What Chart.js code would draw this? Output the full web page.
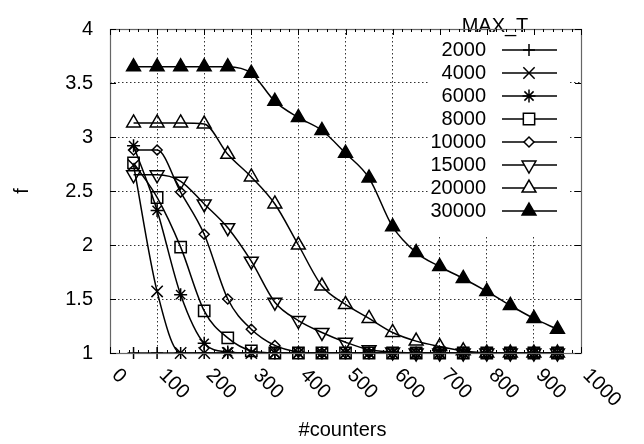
<!DOCTYPE html>
<html>
<head>
<meta charset="utf-8">
<script src="https://cdn.jsdelivr.net/npm/chart.js@4/dist/chart.umd.min.js"></script>
<style>
  body { margin: 0; background: #fff; }
  #wrap { width: 644px; height: 444px; }
</style>
</head>
<body>
<div id="wrap"><canvas id="chart-counters" width="644" height="444"></canvas></div>
<script>
// x values (#counters)
var counters = [50, 100, 150, 200, 250, 300, 350, 400, 450, 500, 550, 600, 650, 700, 750, 800, 850, 900, 950];
var xTicks = [0, 100, 200, 300, 400, 500, 600, 700, 800, 900, 1000];
var yTicks = [1, 1.5, 2, 2.5, 3, 3.5, 4];

// legend labels (MAX_T)
var maxT = ["2000", "4000", "6000", "8000", "10000", "15000", "20000", "30000"];

// f values
var f2000 = [1, 1, 1, 1, 1, 1, 1, 1, 1, 1, 1, 1, 1, 1, 1, 1, 1, 1, 1];
var f4000 = [2.74, 1.57, 1, 1, 1, 1, 1, 1, 1, 1, 1, 1, 1, 1, 1, 1, 1, 1, 1];
var f6000 = [2.92, 2.32, 1.54, 1.09, 1.01, 1, 1, 1, 1, 1, 1, 1, 1, 1, 1, 1, 1, 1, 1];
var f8000 = [2.76, 2.44, 1.98, 1.39, 1.14, 1.02, 1, 1, 1, 1, 1, 1, 1, 1, 1, 1, 1, 1, 1];
var f10000 = [2.88, 2.88, 2.49, 2.1, 1.5, 1.22, 1.07, 1.01, 1, 1, 1, 1, 1, 1, 1, 1, 1, 1, 1];
var f15000 = [2.65, 2.65, 2.59, 2.38, 2.16, 1.85, 1.47, 1.3, 1.19, 1.1, 1.03, 1.01, 1, 1, 1, 1, 1, 1, 1];
var f20000 = [3.13, 3.13, 3.13, 3.12, 2.84, 2.63, 2.38, 2.0, 1.62, 1.45, 1.32, 1.19, 1.11, 1.06, 1.02, 1, 1, 1, 1];
var f30000 = [3.65, 3.65, 3.65, 3.65, 3.65, 3.59, 3.33, 3.18, 3.06, 2.85, 2.62, 2.17, 1.93, 1.8, 1.69, 1.57, 1.44, 1.32, 1.22];

var allF = [f2000, f4000, f6000, f8000, f10000, f15000, f20000, f30000];

// marker per series (gnuplot style point types, open ones see-through)
var OPEN = "rgba(255,255,255,0)";
var markers = [
  { style: "cross", rotation: 0, radius: 6, fill: OPEN },
  { style: "crossRot", rotation: 0, radius: 8, fill: OPEN },
  { style: "star", rotation: 0, radius: 6.5, fill: OPEN },
  { style: "rect", rotation: 0, radius: 8, fill: OPEN },
  { style: "rectRot", rotation: 0, radius: 5, fill: OPEN },
  { style: "triangle", rotation: 180, radius: 8, fill: OPEN },
  { style: "triangle", rotation: 0, radius: 8, fill: OPEN },
  { style: "triangle", rotation: 0, radius: 8, fill: "#000" },
];

var FONT = "Liberation Sans, Arial, sans-serif";
var FONT_SIZE = 20;

function toPoints(ys) {
  var pts = [];
  for (var i = 0; i < counters.length; i++) pts.push({ x: counters[i], y: ys[i] });
  return pts;
}

var datasets = [];
for (var i = 0; i < maxT.length; i++) {
  datasets.push({
    label: maxT[i],
    data: toPoints(allF[i]),
    borderColor: "#000",
    borderWidth: 1.5,
    backgroundColor: markers[i].fill,
    pointStyle: markers[i].style,
    pointRotation: markers[i].rotation,
    pointRadius: markers[i].radius,
    pointBorderWidth: 1.5,
    pointBorderColor: "#000",
    pointBackgroundColor: markers[i].fill,
    cubicInterpolationMode: "monotone",
    fill: false,
    clip: false,
  });
}

// frame, inward ticks, rotated x labels, axis titles, legend
var gnuplotLook = {
  id: "gnuplotLook",
  afterDatasetsDraw: function (chart) {
    var ctx = chart.ctx;
    var a = chart.chartArea;
    var xs = chart.scales.x;
    var ys = chart.scales.y;
    ctx.save();

    // legend box (opaque, covers the grid)
    ctx.fillStyle = "#fff";
    ctx.fillRect(428, a.top + 1, 140, 207);
    ctx.fillStyle = "#000";
    ctx.font = FONT_SIZE + "px " + FONT;
    ctx.textBaseline = "middle";
    ctx.textAlign = "center";
    ctx.fillText("MAX_T", 495, 26);
    for (var i = 0; i < maxT.length; i++) {
      var ry = 50 + i * 23;
      ctx.textAlign = "right";
      ctx.fillStyle = "#000";
      ctx.fillText(maxT[i], 486, ry);
      ctx.strokeStyle = "#000";
      ctx.lineWidth = 1.5;
      ctx.beginPath();
      ctx.moveTo(502, ry);
      ctx.lineTo(557, ry);
      ctx.stroke();
      if (Chart.helpers && Chart.helpers.drawPoint) {
        ctx.fillStyle = markers[i].fill === OPEN ? "#fff" : markers[i].fill;
        Chart.helpers.drawPoint(ctx, {
          pointStyle: markers[i].style,
          rotation: markers[i].rotation,
          radius: markers[i].radius,
          borderWidth: 1.5,
        }, 529, ry);
      }
    }

    // frame
    ctx.strokeStyle = "#666";
    ctx.lineWidth = 1.2;
    ctx.strokeRect(a.left + 0.5, a.top + 0.5, a.right - a.left, a.bottom - a.top);

    // inward ticks: minor x every 20, major every 100, major y
    ctx.strokeStyle = "#000";
    ctx.lineWidth = 1;
    for (var v = 0; v <= 1000; v += 20) {
      var px = Math.round(xs.getPixelForValue(v)) + 0.5;
      var len = v % 100 === 0 ? 6 : 3;
      ctx.beginPath();
      ctx.moveTo(px, a.top);
      ctx.lineTo(px, a.top + len);
      ctx.moveTo(px, a.bottom);
      ctx.lineTo(px, a.bottom - len);
      ctx.stroke();
    }
    for (var k = 0; k < yTicks.length; k++) {
      var py = Math.round(ys.getPixelForValue(yTicks[k])) + 0.5;
      ctx.beginPath();
      ctx.moveTo(a.left, py);
      ctx.lineTo(a.left + 6, py);
      ctx.moveTo(a.right, py);
      ctx.lineTo(a.right - 6, py);
      ctx.stroke();
    }

    // x tick labels, rotated 45 degrees clockwise
    ctx.fillStyle = "#000";
    ctx.font = FONT_SIZE + "px " + FONT;
    ctx.textAlign = "left";
    ctx.textBaseline = "middle";
    for (var t = 0; t < xTicks.length; t++) {
      var tx = xs.getPixelForValue(xTicks[t]);
      ctx.save();
      ctx.translate(tx + 5, a.bottom + 19);
      ctx.rotate(Math.PI / 4);
      ctx.fillText(String(xTicks[t]), 0, 0);
      ctx.restore();
    }

    // axis titles
    ctx.textAlign = "center";
    ctx.fillText("#counters", (a.left + a.right) / 2 - 3, 430);
    ctx.save();
    ctx.translate(22, (a.top + a.bottom) / 2);
    ctx.rotate(-Math.PI / 2);
    ctx.fillText("f", 0, 0);
    ctx.restore();

    ctx.restore();
  },
};

var contextCounters = document.getElementById("chart-counters").getContext("2d");
var myChart = new Chart(contextCounters, {
  type: "line",
  data: { datasets: datasets },
  options: {
    responsive: false,
    animation: false,
    layout: { padding: { left: 0, top: 13, right: 63, bottom: 0 } },
    plugins: {
      legend: { display: false },
      tooltip: { enabled: false },
    },
    scales: {
      x: {
        type: "linear",
        min: 0,
        max: 1000,
        ticks: { stepSize: 100, display: false },
        grid: { color: "#333", lineWidth: 1, drawTicks: false },
        border: { display: false, dash: [1.5, 2.5] },
        afterFit: function (scale) { scale.height = 444 - 353; },
      },
      y: {
        type: "linear",
        min: 1,
        max: 4,
        ticks: {
          stepSize: 0.5,
          padding: 17,
          color: "#000",
          font: { family: FONT, size: FONT_SIZE },
          callback: function (value) { return String(value); },
        },
        grid: { color: "#333", lineWidth: 1, drawTicks: false },
        border: { display: false, dash: [1.5, 2.5] },
        afterFit: function (scale) { scale.width = 110; },
      },
    },
  },
  plugins: [gnuplotLook],
});
</script>
</body>
</html>
